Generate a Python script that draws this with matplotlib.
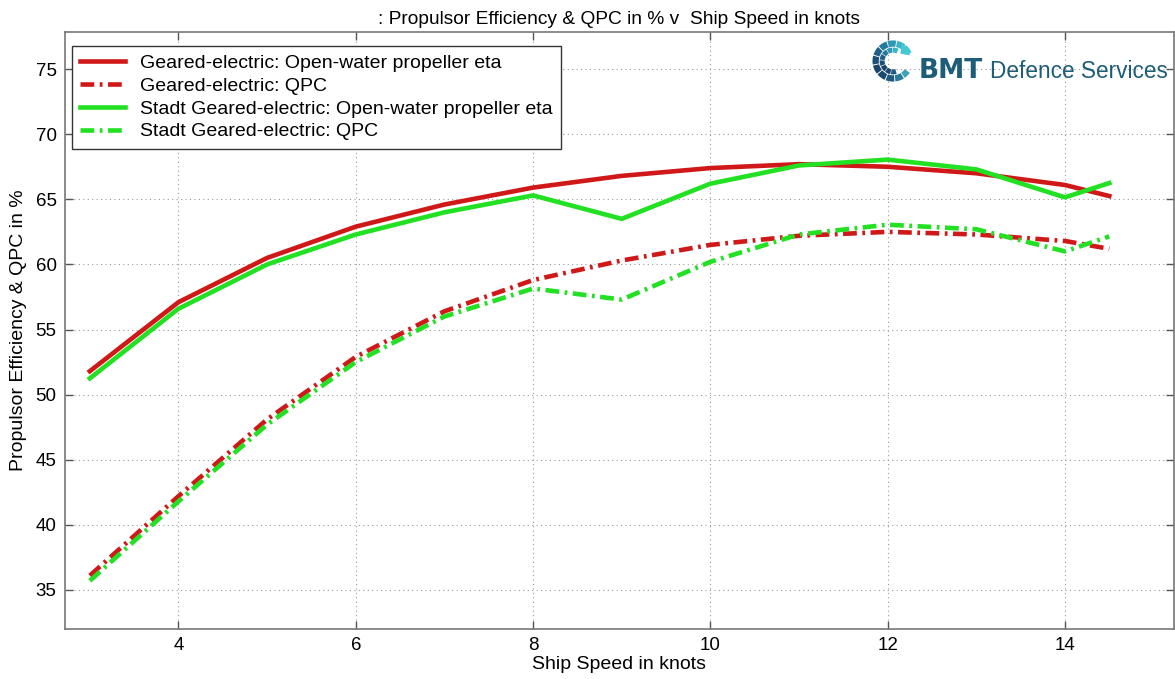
import matplotlib
matplotlib.use("Agg")
import matplotlib.pyplot as plt
from matplotlib.patches import Wedge

plt.rcParams['font.family'] = ['Liberation Sans', 'DejaVu Sans']

speed = [3, 4, 5, 6, 7, 8, 9, 10, 11, 12, 13, 14, 14.5]
ge_eta = [51.8, 57.1, 60.5, 62.9, 64.6, 65.9, 66.8, 67.4, 67.7, 67.5, 67.0, 66.1, 65.25]
ge_qpc = [36.1, 42.2, 48.1, 52.9, 56.4, 58.8, 60.3, 61.5, 62.2, 62.5, 62.3, 61.8, 61.2]
st_eta = [51.25, 56.6, 60.0, 62.3, 64.0, 65.3, 63.5, 66.2, 67.6, 68.05, 67.3, 65.15, 66.25]
st_qpc = [35.7, 41.8, 47.7, 52.5, 56.0, 58.15, 57.3, 60.2, 62.3, 63.05, 62.7, 61.0, 62.15]

labels = ["Geared-electric: Open-water propeller eta",
          "Geared-electric: QPC",
          "Stadt Geared-electric: Open-water propeller eta",
          "Stadt Geared-electric: QPC"]
xticks = [4, 6, 8, 10, 12, 14]
yticks = [35, 40, 45, 50, 55, 60, 65, 70, 75]

red = '#d01818'
green = '#22e022'
W, H = 1175, 679

fig = plt.figure(figsize=(W / 100, H / 100), dpi=100)
ax = fig.add_axes([65 / W, 1 - 629 / H, 1109 / W, 597 / H])

dd = (0, (3, 1.2, 0.6, 1.2))
ax.plot(speed, ge_eta, color=red, lw=3.3, label=labels[0])
ax.plot(speed, ge_qpc, color=red, lw=3.3, ls=dd, label=labels[1])
ax.plot(speed, st_eta, color=green, lw=3.3, label=labels[2])
ax.plot(speed, st_qpc, color=green, lw=3.3, ls=dd, label=labels[3])

ax.set_xlim(2.72, 15.23)
ax.set_ylim(32, 77.85)
ax.set_xticks(xticks)
ax.set_yticks(yticks)
ax.tick_params(direction='in', length=6, width=1, color='#555555', labelsize=13.5,
               top=True, right=True, pad=6)
for s in ax.spines.values():
    s.set_color('#777777')
    s.set_linewidth(1.2)
ax.grid(True, ls=(0, (1, 3)), color='#999999', lw=0.8)

ax.set_xlabel("Ship Speed in knots", fontsize=14, labelpad=1)
ax.set_ylabel("Propulsor Efficiency & QPC in %", fontsize=14, labelpad=6)
ax.set_title(": Propulsor Efficiency & QPC in % v  Ship Speed in knots", fontsize=13.8, pad=6)

leg = ax.legend(loc='upper left', bbox_to_anchor=(7 / 1109, 1 - 14 / 597), fontsize=14,
                frameon=True, fancybox=False, framealpha=1, edgecolor='#333333',
                handlelength=2.3, handletextpad=0.8, borderpad=0.42, labelspacing=0.27,
                borderaxespad=0.0)
leg.get_frame().set_linewidth(1.0)

# Logo text
ax.text((919 - 65) / 1109, 1 - (71 - 32) / 597, "BMT", transform=ax.transAxes,
        fontsize=19, fontweight='bold', color='#1d5d78', va='center', ha='left',
        family='DejaVu Sans')
ax.text((990 - 65) / 1109, 1 - (71 - 32) / 597, "Defence Services", transform=ax.transAxes,
        fontsize=16.3, color='#1d5d78', va='center', ha='left')

# Logo icon
lax = fig.add_axes([870 / W, 1 - 82 / H, 46 / W, 42 / H])
lax.set_xlim(-1.1, 1.1)
lax.set_ylim(-1.0, 1.0)
lax.axis('off')
segs = [(25, 50, '#46c8d4'), (53, 78, '#3bb4c8'), (81, 106, '#2f98b6'),
        (109, 134, '#257aa0'), (137, 162, '#1e6088'), (165, 190, '#1a4f78'),
        (193, 218, '#18456c'), (221, 246, '#1a4a70'), (249, 274, '#1f5b80'),
        (277, 302, '#2a7a98'), (305, 325, '#3aa3b8')]
for a1, a2, c in segs:
    lax.add_patch(Wedge((0, 0), 0.98, a1, a2, width=0.3, facecolor=c, edgecolor='none'))
for a1, a2, c in segs[1:-2]:
    lax.add_patch(Wedge((0, 0), 0.64, a1 + 12, a2 + 12, width=0.24, facecolor=c,
                        edgecolor='none'))
lax.add_patch(Wedge((0.35, 0.35), 0.45, -10, 80, facecolor='#46c8d4', edgecolor='none'))

fig.savefig("out.png", dpi=100)
